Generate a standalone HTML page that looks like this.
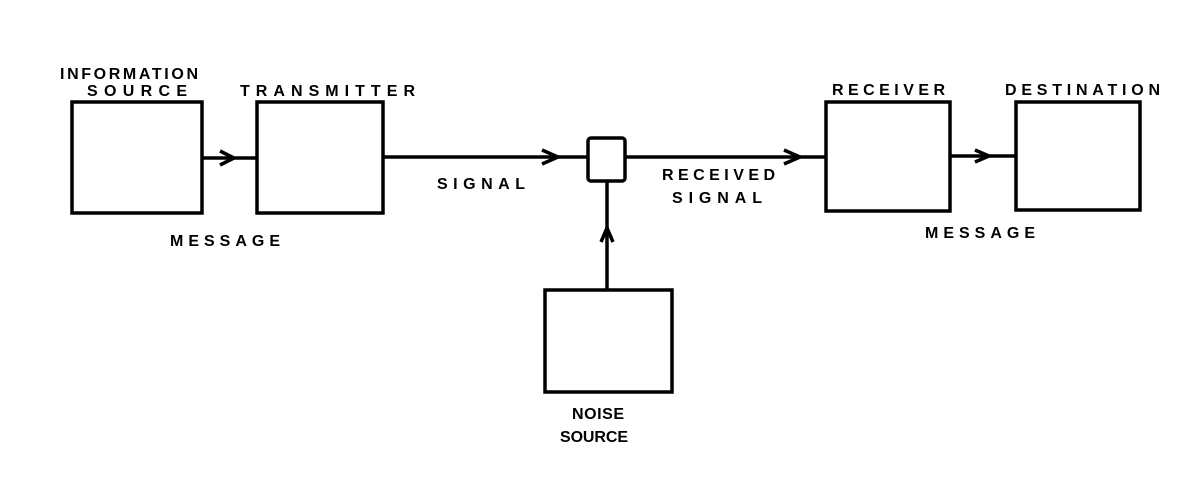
<!DOCTYPE html>
<html><head><style>
body{margin:0;background:#fff;}
svg text{font-family:"Liberation Sans",sans-serif;font-weight:bold;font-size:16px;fill:#000;}
</style></head><body>
<svg width="1188" height="474" viewBox="0 0 1188 474" xmlns="http://www.w3.org/2000/svg">
<g fill="none" stroke="#000" stroke-width="3.5">
<rect x="72" y="102" width="130" height="111"/>
<rect x="257" y="102" width="126" height="111"/>
<rect x="588" y="138" width="37" height="43" rx="3"/>
<rect x="826" y="102" width="124" height="109"/>
<rect x="1016" y="102" width="124" height="108"/>
<rect x="545" y="290" width="127" height="102"/>
<line x1="202" y1="158" x2="257" y2="158"/>
<line x1="383" y1="157" x2="588" y2="157"/>
<line x1="625" y1="157" x2="826" y2="157"/>
<line x1="950" y1="156" x2="1016" y2="156"/>
<line x1="607" y1="181" x2="607" y2="290"/>
</g>
<g fill="none" stroke="#000" stroke-width="3.5" stroke-linejoin="miter">
<polyline points="220,151 234,158 220,165"/>
<polyline points="542,150 558,157 542,164"/>
<polyline points="784,150 800,157 784,164"/>
<polyline points="975,150 989,156 975,162"/>
<polyline points="601,242 607,228 613,242"/>
</g>
<text x="60" y="79" textLength="138">INFORMATION</text>
<text x="87" y="96" textLength="100">SOURCE</text>
<text x="240" y="96" textLength="175">TRANSMITTER</text>
<text x="437" y="189" textLength="88">SIGNAL</text>
<text x="170" y="246" textLength="110">MESSAGE</text>
<text x="662" y="180" textLength="113">RECEIVED</text>
<text x="672" y="203" textLength="90">SIGNAL</text>
<text x="832" y="95" textLength="113">RECEIVER</text>
<text x="1005" y="95" textLength="155">DESTINATION</text>
<text x="925" y="238" textLength="110">MESSAGE</text>
<text x="572" y="419" textLength="52">NOISE</text>
<text x="560" y="442" textLength="68">SOURCE</text>
</svg>
</body></html>
